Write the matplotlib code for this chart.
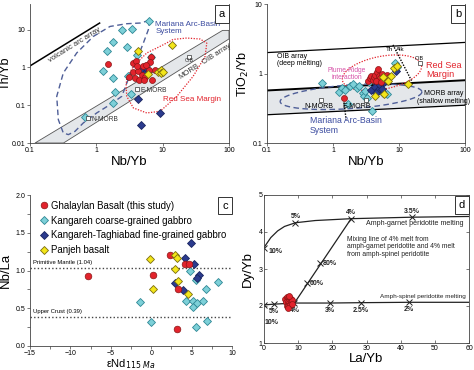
import numpy as np
import matplotlib
matplotlib.use("Agg")
import matplotlib.pyplot as plt
from matplotlib.lines import Line2D

plt.rcParams['font.family'] = ['Liberation Sans', 'DejaVu Sans']

# ---------------- data ----------------
# panel a : Nb/Yb vs Th/Yb
a_cy_x = [6.2, 3.4, 2.4, 1.8, 1.44, 2.9, 4.1, 1.25, 1.77, 6.6, 5.6, 5.9, 3.0, 1.9, 3.3, 1.8, 0.68]
a_cy_y = [17.5, 10.6, 9.6, 4.7, 2.7, 3.4, 2.2, 0.82, 0.52, 1.9, 1.07, 0.82, 0.58, 0.23, 0.2, 0.115, 0.049]
a_nv_x = [4.8, 5.2, 5.5, 4.5, 4.3, 9.1, 4.7]
a_nv_y = [0.95, 0.88, 1.0, 0.85, 0.15, 0.064, 0.03]
a_rd_x = [1.49, 3.54, 3.97, 6.68, 6.5, 3.54, 4.2, 4.8, 5.5, 3.8, 4.4, 5.3, 6.8, 6.2, 7.7, 5.0, 5.7, 4.06, 3.13]
a_rd_y = [1.26, 1.32, 1.51, 1.9, 1.37, 0.74, 0.79, 0.65, 0.56, 0.53, 0.48, 0.48, 0.46, 0.84, 0.84, 1.07, 1.14, 1.07, 0.56]
a_yl_x = [4.3, 13.7, 6.0, 8.6, 9.3, 9.6, 10.2]
a_yl_y = [2.7, 3.85, 0.68, 0.77, 0.84, 0.70, 0.75]

# panel b : Nb/Yb vs TiO2/Yb
b_cy_x = [0.68, 1.25, 1.35, 1.5, 1.7, 1.8, 2.0, 2.3, 2.5, 2.8, 3.0, 3.1, 3.3, 3.5, 3.9, 4.3, 5.8, 6.5, 8.7, 9.2]
b_cy_y = [0.72, 0.55, 0.62, 0.58, 0.37, 0.66, 0.70, 0.62, 0.66, 0.52, 0.47, 0.56, 0.44, 0.75, 0.29, 0.62, 0.53, 0.50, 1.40, 1.25]
b_nv_x = [3.8, 4.3, 4.8, 5.2, 5.5, 6.0, 9.0, 4.5]
b_nv_y = [0.58, 0.65, 0.57, 0.69, 0.60, 0.75, 1.10, 0.52]
b_rd_x = [1.45, 3.4, 3.6, 3.8, 4.0, 4.2, 4.4, 4.6, 4.8, 5.0, 5.2, 5.5, 5.8, 6.2, 6.5, 7.0, 4.5, 5.3]
b_rd_y = [0.45, 0.78, 0.85, 0.92, 0.80, 0.88, 0.95, 1.05, 1.15, 0.92, 0.85, 0.98, 0.90, 0.82, 0.95, 0.88, 0.78, 0.75]
b_yl_x = [4.3, 5.9, 5.7, 6.9, 7.5, 8.3, 9.3, 13.5]
b_yl_y = [0.47, 0.51, 0.90, 0.78, 0.92, 1.20, 1.28, 0.71]

# panel c : eNd vs Nb/La
c_rd_x = [-7.8, 0.2, 2.3, 4.2, 4.7, 3.3, 3.2]
c_rd_y = [0.93, 0.94, 1.20, 1.08, 1.08, 0.76, 0.23]
c_cy_x = [4.8, 5.6, 4.3, 5.2, 5.2, 5.65, 6.4, 6.8, 8.3, -1.4, -0.05, 5.5, 6.9]
c_cy_y = [0.99, 0.88, 0.60, 0.60, 0.52, 0.57, 0.59, 0.75, 0.85, 0.58, 0.32, 0.25, 0.33]
c_nv_x = [4.9, 4.2, 5.3, 2.9, 3.9, 5.9, 5.7]
c_nv_y = [1.37, 1.17, 1.09, 0.83, 0.74, 0.94, 0.90]
c_yl_x = [-0.1, 2.9, 3.2, 2.9, 0.2, 3.3, 4.5]
c_yl_y = [1.15, 1.21, 1.17, 1.02, 0.75, 0.86, 0.69]
pm_ratio = 1.03
uc_ratio = 0.39

# panel d : La/Yb vs Dy/Yb
d_rd_x = [6.2, 6.6, 7.0, 7.4, 7.8, 6.4, 6.9, 7.3, 7.8, 8.3, 6.6, 7.1, 7.6, 6.9, 8.1, 7.2]
d_rd_y = [2.20, 2.25, 2.22, 2.18, 2.20, 2.10, 2.12, 2.08, 2.10, 2.15, 2.00, 2.00, 2.02, 1.95, 2.05, 2.26]
gar_x = [0, 2, 4, 6, 9.2, 15, 25.5, 43.3, 60]
gar_y = [3.58, 3.85, 4.03, 4.15, 4.25, 4.31, 4.36, 4.40, 4.42]
gar_mark_x = [0, 9.2, 25.5, 43.3]
gar_mark_y = [3.58, 4.25, 4.36, 4.40]
gar_lab = ['10%', '5%', '4%', '3.5%']
sp_x = [0, 3.0, 8.9, 19.2, 28.4, 42.4, 60]
sp_y = [2.03, 2.05, 2.08, 2.08, 2.09, 2.10, 2.10]
sp_mark_lab = ['10%', '5%', '4%', '3%', '2.5%', '2%']
mix_x = [8.9, 12.6, 16.5, 25.5]
mix_y = [2.08, 2.63, 3.17, 4.36]
mix_lab = ['60%', '80%']

# mapping outlines (log10 space), panel a
mar_lx = [0.799, 0.659, 0.459, 0.207, -0.045, -0.296, -0.498, -0.597, -0.573, -0.498, -0.422, -0.321,
          -0.196, 0.006, 0.207, 0.383, 0.508, 0.609, 0.709, 0.784, 0.799]
mar_ly = [1.246, 1.177, 1.159, 1.087, 0.823, 0.384, -0.146, -0.765, -1.381, -1.733, -1.778, -1.690,
          -1.468, -1.204, -0.984, -0.765, -0.190, 0.206, 0.648, 1.0, 1.246]
rs_lx = [0.459, 0.558, 0.760, 1.011, 1.157, 1.364, 1.564, 1.665, 1.640, 1.459, 1.213, 0.961, 0.760, 0.558,
         0.459, 0.448, 0.459]
rs_ly = [-0.278, 0.029, 0.384, 0.603, 0.742, 0.78, 0.754, 0.648, 0.294, -0.235, -0.765, -1.161, -1.204,
         -1.071, -0.765, -0.5, -0.278]

CY = dict(marker='D', ms=3.6, mfc='#7dd0d8', mec='#2f8795', mew=0.6, ls='none')
NV = dict(marker='D', ms=3.6, mfc='#2b3b8e', mec='#1a2560', mew=0.6, ls='none')
RD = dict(marker='o', ms=4.3, mfc='#e2232c', mec='#8a1515', mew=0.5, ls='none')
YL = dict(marker='D', ms=3.6, mfc='#f3e61a', mec='#7a6c10', mew=0.6, ls='none')
BLUE = '#4f5f98'
RED = '#e2232c'
W, H = 474, 370


def box(l, r, t, b):
    return [l / W, 1 - b / H, (r - l) / W, (b - t) / H]


def style(ax, direction='out'):
    for s in ax.spines.values():
        s.set_linewidth(0.6)
        s.set_color('#444444')
    ax.tick_params(which='both', direction=direction, length=2, width=0.5, labelsize=5, pad=1.2,
                   color='#444444')


def letter(ax, s):
    ax.text(0.965, 0.93, s, transform=ax.transAxes, fontsize=8, ha='center', va='center', clip_on=False,
            bbox=dict(boxstyle='square,pad=0.35', fc='white', ec='#333333', lw=0.7))


def log_ell(ax, lx, ly, a, b, ang, k, **kw):
    t = np.linspace(0, 2 * np.pi, 200)
    c, s = np.cos(np.radians(ang)), np.sin(np.radians(ang))
    u, v = a * np.cos(t), b * np.sin(t)
    ax.plot(10 ** (lx + u * c - v * s), 10 ** (ly + (u * s + v * c) * k), **kw)


fig = plt.figure(figsize=(4.74, 3.70), dpi=100)

# ---------------- panel a ----------------
ax = fig.add_axes(box(30, 229, 4, 143))
ax.set_xscale('log')
ax.set_yscale('log')
ax.set_xlim(0.1, 100)
ax.set_ylim(0.01, 48)
band = np.array([[0.119, 0.01], [80, 9.6], [100, 9.6], [100, 5.7], [0.32, 0.01]])
ax.fill(band[:, 0], band[:, 1], fc='#e4e7ea', ec='#555555', lw=0.6, zorder=1)
ax.plot([0.1, 1.12], [1.1, 15], color='black', lw=1.1)
ax.text(0.47, 4.0, 'volcanic arc array', rotation=32, fontsize=5.5, ha='center', va='center',
        rotation_mode='anchor', color='#333333')
ax.text(25, 0.78, 'MORB', rotation=33, fontsize=5.5, ha='center', va='center', rotation_mode='anchor',
        color='#333333')
ax.text(66, 2.25, 'OIB array', rotation=33, fontsize=5.5, ha='center', va='center', rotation_mode='anchor',
        color='#333333')
ax.plot(10 ** np.array(mar_lx), 10 ** np.array(mar_ly), color=BLUE, lw=1.0, ls=(0, (4, 2.5)), zorder=2)
ax.plot(10 ** np.array(rs_lx), 10 ** np.array(rs_ly), color=RED, lw=0.9, ls=(0, (1, 1.2)), zorder=2)
ax.plot(a_cy_x, a_cy_y, zorder=3, **CY)
ax.plot(a_nv_x, a_nv_y, zorder=3, **NV)
ax.plot(a_rd_x, a_rd_y, zorder=4, **RD)
ax.plot(a_yl_x, a_yl_y, zorder=5, **YL)
for x, y, lab, dx in [(25.3, 1.9, 'OIB', 0), (4.16, 0.27, 'E-MORB', 1), (0.76, 0.046, 'N-MORB', 1)]:
    ax.plot(x, y, marker='s', ms=3.2, mfc='white', mec='#333333', mew=0.5, zorder=6)
    if dx:
        ax.text(x * 1.12, y * 0.9, lab, fontsize=4.8, ha='left', va='center', color='#333333', zorder=6)
    else:
        ax.text(x, y * 0.8, lab, fontsize=3.8, ha='center', va='center', color='#333333', zorder=6)
ax.text(7.7, 11, 'Mariana Arc-Basin\nSystem', color='#3c4ca0', fontsize=5.8, ha='left', va='center',
        linespacing=1.0)
ax.text(27.7, 0.14, 'Red Sea Margin', color=RED, fontsize=5.8, ha='center', va='center')
ax.set_xticks([0.1, 1, 10, 100], ['0.1', '1', '10', '100'])
ax.set_yticks([0.01, 0.1, 1, 10], ['0.01', '0.1', '1', '10'])
ax.minorticks_off()
ax.spines['top'].set_visible(False)
style(ax)
ax.set_xlabel('Nb/Yb', fontsize=9.5, labelpad=1)
ax.set_ylabel('Th/Yb', fontsize=9, labelpad=0)
letter(ax, 'a')

# ---------------- panel b ----------------
ax = fig.add_axes(box(267, 465, 4, 143))
ax.set_xscale('log')
ax.set_yscale('log')
ax.set_xlim(0.1, 100)
ax.set_ylim(0.1, 10)
xs = np.array([0.1, 100])
ax.fill_between(xs, [0.255, 0.35], [0.57, 0.80], color='#e4e7ea', zorder=1, lw=0)
ax.plot(xs, [2.0, 2.8], color='black', lw=0.9)
ax.plot(xs, [0.57, 0.80], color='black', lw=1.4)
ax.plot(xs, [0.255, 0.35], color='black', lw=0.9)
ax.plot([8.1, 15.7], [2.58, 0.77], color='black', lw=1.0, ls=(0, (1, 1)))
ax.plot([1.45, 1.58], [0.42, 0.217], color='black', lw=1.0, ls=(0, (1, 1)))
ax.text(7.2, 2.2, 'Th', fontsize=4.5, ha='center', va='center')
ax.text(10.6, 2.2, 'Alk', fontsize=4.5, ha='center', va='center')
log_ell(ax, 0.273, -0.334, 1.076, 0.18, 4, 0.947, color=BLUE, lw=1.0, ls=(0, (4, 2.5)), zorder=2)
log_ell(ax, 0.742, 0.01, 0.61, 0.25, 11, 0.947, color=RED, lw=0.9, ls=(0, (1, 1.2)), zorder=2)
ax.plot(b_cy_x, b_cy_y, zorder=3, **CY)
ax.plot(b_nv_x, b_nv_y, zorder=4, **NV)
ax.plot(b_rd_x, b_rd_y, zorder=4, **RD)
ax.plot(b_yl_x, b_yl_y, zorder=5, **YL)
for x, y in [(0.665, 0.42), (3.2, 0.42), (20.6, 1.41)]:
    ax.plot(x, y, marker='s', ms=3.4, mfc='white', mec='#333333', mew=0.5, zorder=6)
ax.text(0.61, 0.333, 'N-MORB', fontsize=5, ha='center', va='center')
ax.text(2.3, 0.333, 'E-MORB', fontsize=5, ha='center', va='center')
ax.text(20.6, 1.62, 'OIB', fontsize=3.8, ha='center', va='center')
ax.text(0.142, 1.57, 'OIB array\n(deep melting)', fontsize=5, ha='left', va='center', linespacing=1.1)
ax.text(48, 0.45, 'MORB array\n(shallow melting)', fontsize=5, ha='center', va='center', linespacing=1.1)
ax.text(25.6, 1.13, 'Red Sea\nMargin', color=RED, fontsize=6.6, ha='left', va='center', linespacing=1.05)
ax.text(1.63, 0.99, 'Plume-Ridge\ninteraction', color='#d650a8', fontsize=4.8, ha='center', va='center',
        linespacing=1.0)
ax.text(0.449, 0.178, 'Mariana Arc-Basin\nSystem', color='#3c4ca0', fontsize=6.3, ha='left', va='center',
        linespacing=1.05)
ax.set_xticks([0.1, 1, 10, 100], ['0.1', '1', '10', '100'])
ax.set_yticks([0.1, 1, 10], ['0.1', '1', '10'])
ax.minorticks_off()
ax.spines['top'].set_visible(False)
style(ax)
ax.set_xlabel('Nb/Yb', fontsize=9.5, labelpad=1)
ax.set_ylabel('TiO$_2$/Yb', fontsize=9, labelpad=1)
letter(ax, 'b')

# ---------------- panel c ----------------
ax = fig.add_axes(box(30, 232, 195, 346))
ax.set_xlim(-15, 10)
ax.set_ylim(0, 2.0)
ax.axhline(pm_ratio, color='#444444', lw=1.0, ls=(0, (1, 1.6)))
ax.axhline(uc_ratio, color='#444444', lw=1.0, ls=(0, (1, 1.6)))
ax.text(-14.6, pm_ratio + 0.04, 'Primitive Mantle (1.04)', fontsize=4.2, va='bottom')
ax.text(-14.6, uc_ratio + 0.04, 'Upper Crust (0.39)', fontsize=4.2, va='bottom')
ax.plot(c_cy_x, c_cy_y, zorder=3, **dict(CY, ms=4.2))
ax.plot(c_nv_x, c_nv_y, zorder=3, **dict(NV, ms=4.2))
ax.plot(c_rd_x, c_rd_y, zorder=4, **dict(RD, ms=4.8))
ax.plot(c_yl_x, c_yl_y, zorder=5, **dict(YL, ms=4.2))
ax.set_xticks([-15, -10, -5, 0, 5, 10])
ax.set_xticks(np.arange(-12.5, 10, 5), minor=True)
ax.set_yticks([0, 0.5, 1.0, 1.5, 2.0], ['0.0', '0.5', '1.0', '1.5', '2.0'])
ax.set_yticks(np.arange(0.25, 2.0, 0.5), minor=True)
ax.spines['top'].set_visible(False)
ax.spines['right'].set_visible(False)
style(ax)
ax.set_xlabel('εNd$_{115\\ Ma}$', fontsize=8, labelpad=0)
ax.set_ylabel('Nb/La', fontsize=9.5, labelpad=3)
handles = [Line2D([], [], **dict(RD, ms=4.8)), Line2D([], [], **dict(CY, ms=4.2)),
           Line2D([], [], **dict(NV, ms=4.2)), Line2D([], [], **dict(YL, ms=4.2))]
labels = ['Ghalaylan Basalt (this study)', 'Kangareh coarse-grained gabbro',
          'Kangareh-Taghiabad fine-grained gabbro', 'Panjeh basalt']
ax.legend(handles, labels, loc='upper left', bbox_to_anchor=(0.02, 1.0), frameon=False, fontsize=6.9,
          handlelength=0.8, handletextpad=0.4, labelspacing=0.5, borderaxespad=0.2)
letter(ax, 'c')

# ---------------- panel d ----------------
ax = fig.add_axes(box(264, 469, 195, 343))
ax.set_xlim(0, 60)
ax.set_ylim(1, 5)
ax.plot(gar_x, gar_y, color='#222222', lw=0.9)
ax.plot(gar_mark_x, gar_mark_y, ls='none', marker='x', ms=4, mew=0.7, color='#222222')
ax.plot(sp_x, sp_y, color='#222222', lw=0.9)
ax.plot(sp_x[:-1], sp_y[:-1], ls='none', marker='x', ms=4, mew=0.7, color='#222222')
ax.plot([mix_x[0], mix_x[-1]], [mix_y[0], mix_y[-1]], color='#222222', lw=0.9)
ax.plot(mix_x[1:3], mix_y[1:3], ls='none', marker='x', ms=4, mew=0.7, color='#222222')
ax.plot(d_rd_x, d_rd_y, zorder=4, **RD)
kw = dict(fontsize=5, fontweight='bold', color='#222222')
ax.text(gar_mark_x[0] + 1.2, gar_mark_y[0] - 0.1, gar_lab[0], ha='left', va='center', **kw)
for x, y, s in zip(gar_mark_x[1:], gar_mark_y[1:], gar_lab[1:]):
    ax.text(x, y + 0.16, s, ha='center', va='center', **kw)
ax.text(2.3, 1.55, sp_mark_lab[0], ha='center', va='center', **kw)
for x, y, s in zip(sp_x[1:-1], sp_y[1:-1], sp_mark_lab[1:]):
    ax.text(x, y - 0.2, s, ha='center', va='center', **kw)
for x, y, s in zip(mix_x[1:3], mix_y[1:3], mix_lab):
    ax.text(x + 0.8, y - 0.02, s, ha='left', va='center', **kw)
ax.text(30, 4.22, 'Amph-garnet peridotite melting', fontsize=5.1, ha='left', va='center', color='#222222')
ax.text(34, 2.27, 'Amph-spinel peridotite melting', fontsize=4.6, ha='left', va='center', color='#222222')
ax.text(24.3, 3.6, 'Mixing line of 4% melt from\namph-garnet peridotite and 4% melt\nfrom amph-spinel peridotite',
        fontsize=4.9, ha='left', va='center', linespacing=1.05, color='#222222')
ax.set_xticks(range(0, 61, 10))
ax.set_yticks([1, 2, 3, 4, 5])
ax.tick_params(top=True, right=True)
style(ax, 'in')
ax.set_xlabel('La/Yb', fontsize=9.5, labelpad=1)
ax.set_ylabel('Dy/Yb', fontsize=9.5, labelpad=3)
letter(ax, 'd')

fig.savefig('out.png', dpi=100)
